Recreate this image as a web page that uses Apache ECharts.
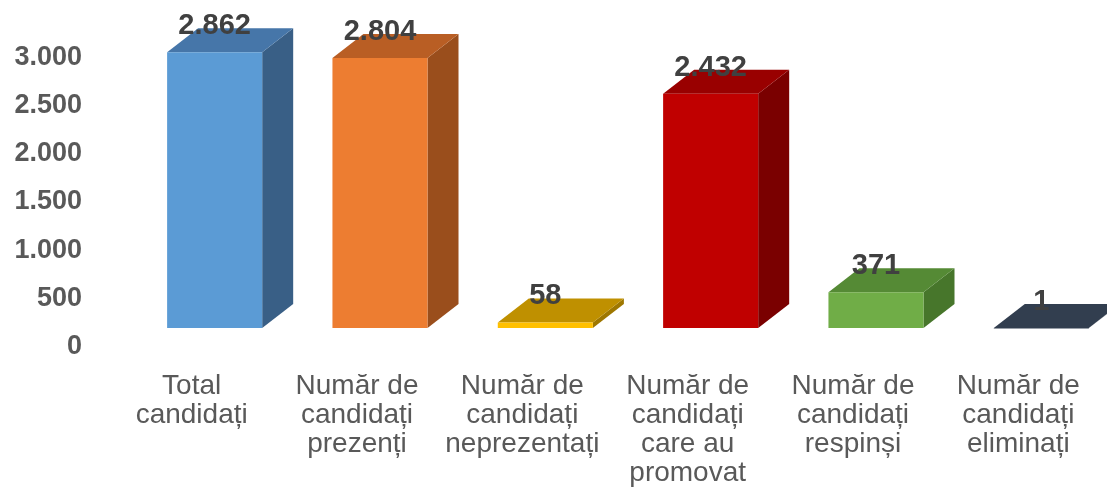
<!DOCTYPE html>
<html>
<head>
<meta charset="utf-8">
<script src="https://cdn.jsdelivr.net/npm/echarts@6/dist/echarts.min.js"></script>
<style>
  html, body { margin: 0; padding: 0; background: #fff; }
  #main { width: 1107px; height: 498px; }
</style>
</head>
<body>
<div id="main"></div>
<script>
var categories = [
  'Total\ncandidați',
  'Număr de\ncandidați\nprezenți',
  'Număr de\ncandidați\nneprezentați',
  'Număr de\ncandidați\ncare au\npromovat',
  'Număr de\ncandidați\nrespinși',
  'Număr de\ncandidați\neliminați'
];
var values = [2862, 2804, 58, 2432, 371, 1];
var valueLabels = ['2.862', '2.804', '58', '2.432', '371', '1'];
var yTicks = [0, 500, 1000, 1500, 2000, 2500, 3000];

// front / top / side shades per bar
var faceColors = [
  ['#5B9BD5', '#4676A9', '#395F86'],
  ['#ED7D31', '#B95E24', '#9A4E1C'],
  ['#FFC000', '#BF9000', '#9E7700'],
  ['#C00000', '#990000', '#7A0000'],
  ['#70AD47', '#558A35', '#47762B'],
  ['#333F50', '#323E4F', '#27313F']
];

var chart = echarts.init(document.getElementById('main'));

var DX = 31, DY = 24;

function renderItem(params, api) {
  var i = api.value(0);
  var top = api.coord([i, api.value(1)]);
  var base = api.coord([i, 0]);
  var bw = api.size([1, 0])[0];
  var w = bw * 0.575;
  var cx = top[0] + bw * 0.139;
  var x0 = cx - w / 2, x1 = cx + w / 2;
  var yt = top[1], yb = base[1];
  var c = faceColors[i];
  return {
    type: 'group',
    children: [
      { type: 'polygon', shape: { points: [[x1, yt], [x1 + DX, yt - DY], [x1 + DX, yb - DY], [x1, yb]] },
        style: { fill: c[2] } },
      { type: 'polygon', shape: { points: [[x0, yt], [x0 + DX, yt - DY], [x1 + DX, yt - DY], [x1, yt]] },
        style: { fill: c[1] } },
      { type: 'rect', shape: { x: x0, y: yt, width: w, height: Math.max(yb - yt, 0.5) },
        style: { fill: c[0] } },
      { type: 'text', x: cx, y: yt - 26,
        style: { text: valueLabels[i], fill: '#404040', font: 'bold 29px "Liberation Sans", Arial, sans-serif',
          align: 'center', verticalAlign: 'middle' } }
    ]
  };
}

var option = {
  animation: false,
  grid: { left: 109, right: 6, top: 39, bottom: 170 },
  xAxis: {
    type: 'category',
    data: categories,
    axisLine: { show: false },
    axisTick: { show: false },
    axisLabel: {
      interval: 0,
      margin: 44,
      color: '#595959',
      fontFamily: '"Liberation Sans", Arial, sans-serif',
      fontSize: 28,
      lineHeight: 29,
      verticalAlign: 'top'
    }
  },
  yAxis: {
    type: 'value',
    min: yTicks[0],
    max: yTicks[yTicks.length - 1],
    interval: 500,
    axisLine: { show: false },
    axisTick: { show: false },
    splitLine: { show: false },
    axisLabel: {
      margin: 27,
      color: '#595959',
      fontWeight: 'bold',
      fontFamily: '"Liberation Sans", Arial, sans-serif',
      fontSize: 27,
      verticalAlign: 'top',
      lineHeight: 37,
      formatter: function (v) {
        return v >= 1000 ? Math.floor(v / 1000) + '.' + String(v % 1000).padStart(3, '0') : String(v);
      }
    }
  },
  series: [{
    type: 'custom',
    renderItem: renderItem,
    clip: false,
    data: values.map(function (v, i) { return [i, v]; }),
    encode: { x: 0, y: 1 }
  }]
};

chart.setOption(option);
</script>
</body>
</html>
